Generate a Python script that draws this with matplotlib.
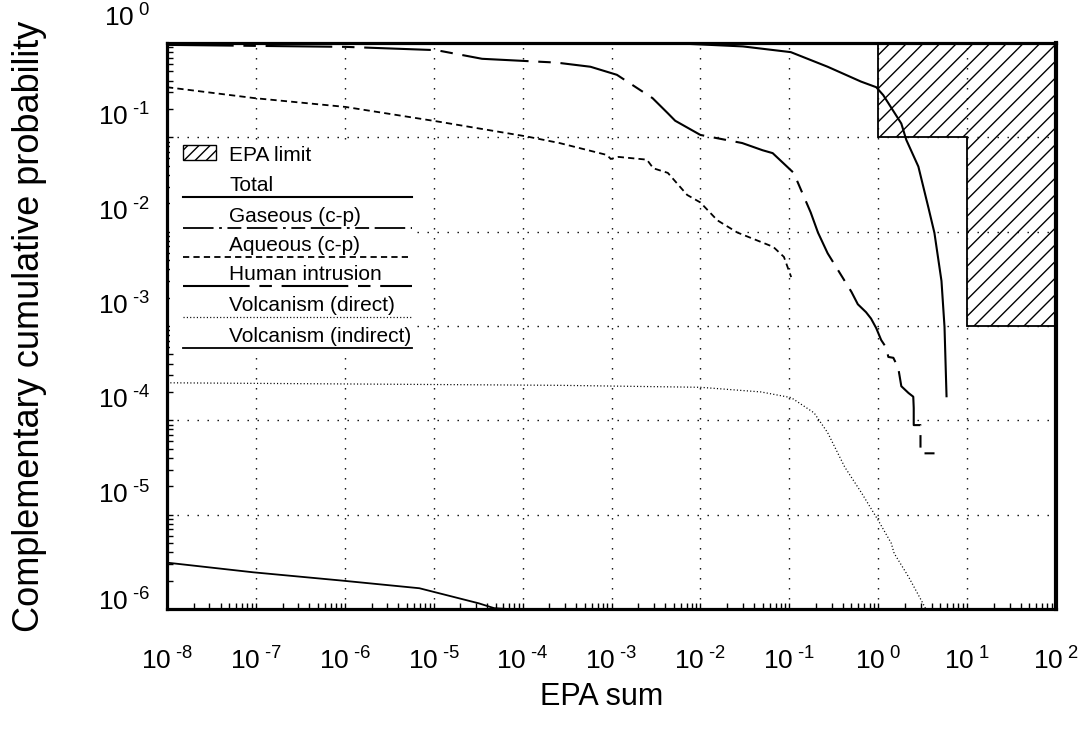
import matplotlib
matplotlib.use("Agg")
import matplotlib.pyplot as plt
import matplotlib.transforms as mtransforms
from matplotlib.patches import Polygon, Rectangle
from matplotlib.ticker import LogLocator, NullFormatter

plt.rcParams['font.family'] = ['Liberation Sans', 'DejaVu Sans']
plt.rcParams['mathtext.fontset'] = 'custom'
plt.rcParams['mathtext.rm'] = 'Liberation Sans'
plt.rcParams['lines.scale_dashes'] = False
plt.rcParams['hatch.linewidth'] = 1.0

# ---------------- data ----------------
x_total = [1e-8, 1e-4, 7.1e-3, 0.03, 0.104, 0.27, 0.64, 0.95, 1.14, 1.82, 2.07,
           2.83, 3.67, 4.29, 5.15, 5.57, 5.87]
y_total = [1.0, 0.995, 0.98, 0.92, 0.80, 0.56, 0.39, 0.34, 0.28, 0.14, 0.094,
           0.049, 0.018, 0.0097, 0.0030, 0.00098, 0.00018]

x_human = [1e-8, 1.02e-6, 1.07e-5, 3.5e-5, 2.4e-4, 5.8e-4, 1.15e-3, 2.9e-3, 4.3e-3,
           5.2e-3, 0.01, 0.0295, 0.05, 0.065, 0.112, 0.174, 0.21, 0.27, 0.50, 0.59,
           0.73, 0.83, 0.95, 1.08, 1.23, 1.30, 1.48, 1.68, 1.82, 2.19, 2.48, 2.51,
           2.51, 2.99, 2.99, 4.3]
y_human = [0.955, 0.91, 0.84, 0.68, 0.62, 0.56, 0.46, 0.26, 0.18,
           0.15, 0.106, 0.087, 0.073, 0.068, 0.042, 0.016, 0.0098, 0.0059, 0.0023, 0.0017,
           0.0014, 0.0012, 0.00095, 0.00071, 0.00059, 0.00047, 0.00046, 0.00036, 0.00023,
           0.000195, 0.000178, 0.000135, 0.000089, 0.000089, 0.0000447, 0.0000447]

x_aqueous = [1e-8, 9.8e-8, 1.02e-6, 1.07e-5, 1.12e-4, 2.6e-4, 8.9e-4, 9.8e-4, 1.2e-3,
             2.5e-3, 2.95e-3, 4.3e-3, 7.1e-3, 0.01, 0.0155, 0.026, 0.066, 0.087, 0.105]
y_aqueous = [0.34, 0.26, 0.21, 0.148, 0.102, 0.087, 0.065, 0.059, 0.062,
             0.058, 0.047, 0.042, 0.0245, 0.0204, 0.0132, 0.0098, 0.0069, 0.0054, 0.0033]

x_gaseous = []
y_gaseous = []

x_volc_direct = [1e-8, 2.6e-4, 0.01, 0.048, 0.105, 0.19, 0.27, 0.42, 0.65, 1.0,
                 1.40, 1.51, 2.19, 3.06, 3.47]
y_volc_direct = [2.5e-4, 2.35e-4, 2.24e-4, 2.0e-4, 1.74e-4, 1.2e-4, 7.4e-5, 3.2e-5,
                 1.7e-5, 8.7e-6, 5.0e-6, 3.9e-6, 2.2e-6, 1.23e-6, 0.98e-6]

x_volc_indirect = [1e-8, 9.3e-8, 9.3e-7, 6.9e-6, 3.2e-5, 4.8e-5, 9.8e-5]
y_volc_indirect = [3.1e-6, 2.45e-6, 2.0e-6, 1.66e-6, 1.15e-6, 1.02e-6, 0.98e-6]

epa_x = [1, 100, 100, 10, 10, 1]
epa_y = [1, 1, 1e-3, 1e-3, 0.1, 0.1]

x_tick_exps = [-8, -7, -6, -5, -4, -3, -2, -1, 0, 1, 2]
y_tick_exps = [0, -1, -2, -3, -4, -5, -6]
y_label_shift = [25, 20, 20, 20, 20, 20, 7]   # pixels upward

legend_labels = ["Total", "Gaseous (c-p)", "Aqueous (c-p)", "Human intrusion",
                 "Volcanism (direct)", "Volcanism (indirect)"]

# ---------------- styles ----------------
st_total = dict(color='black', lw=1.5, ls='-')
st_gas = dict(color='black', lw=1.3, ls=(0, (22, 4, 2, 4, 10, 4)))
st_aq = dict(color='black', lw=1.3, ls=(0, (4.5, 3)))
st_hum = dict(color='black', lw=1.5, ls=(0, (48, 7, 9, 7)))
st_vd = dict(color='black', lw=0.9, ls=(0, (0.8, 1.6)))
st_vi = dict(color='black', lw=1.3, ls='-')
legend_styles = [st_total, st_gas, st_aq, st_hum, st_vd, st_vi]


def pow_label(e):
    s = str(e).replace('-', '\u2010')
    return r'$\mathregular{10^{\;' + s + '}}$'


fig = plt.figure(figsize=(10.88, 7.34), dpi=100)
ax = fig.add_axes([167/1088, 1 - 609/734, 889/1088, 566/734])
ax.set_xscale('log')
ax.set_yscale('log')
ax.set_xlim(1e-8, 1e2)
ax.set_ylim(1e-6, 1)

# grid
ax.grid(True, which='major', color='black', lw=1.0, ls=(0, (1, 6.2)), zorder=0)
ax.set_axisbelow(True)

# EPA limit
ax.add_patch(Polygon(list(zip(epa_x, epa_y)), closed=True, facecolor='none',
                     edgecolor='black', hatch='//', lw=1.3, zorder=2))

# curves
ax.plot(x_total, y_total, zorder=3, **st_total)
ax.plot(x_human, y_human, zorder=3, **st_hum)
ax.plot(x_aqueous, y_aqueous, zorder=3, **st_aq)
ax.plot(x_gaseous, y_gaseous, zorder=3, **st_gas)
ax.plot(x_volc_direct, y_volc_direct, zorder=3, **st_vd)
ax.plot(x_volc_indirect, y_volc_indirect, zorder=3, **st_vi)

# custom legend
def ax_x(px):
    return (px - 167) / 889.0

def ax_y(py):
    return (609 - py) / 566.0

ax.add_patch(Rectangle((ax_x(170), ax_y(352)), ax_x(415) - ax_x(170), ax_y(140) - ax_y(352),
                       transform=ax.transAxes, facecolor='white', edgecolor='none', zorder=1))
ax.add_patch(Rectangle((ax_x(183), ax_y(160)), ax_x(216) - ax_x(183), ax_y(145) - ax_y(160),
                       transform=ax.transAxes, facecolor='none', edgecolor='black',
                       hatch='///', lw=1.0, zorder=4))
ax.text(ax_x(229), ax_y(161), "EPA limit", transform=ax.transAxes, fontsize=15,
        va='baseline', ha='left', zorder=5)
line_ys = [197, 228, 257, 286, 317, 348]
for lab, st, ly in zip(legend_labels, legend_styles, line_ys):
    ax.plot([ax_x(183), ax_x(412)], [ax_y(ly), ax_y(ly)], transform=ax.transAxes,
            zorder=4, **st)
    ax.text(ax_x(229), ax_y(ly - 6), lab, transform=ax.transAxes, fontsize=15,
            va='baseline', ha='left', zorder=5)

# ticks
ax.xaxis.set_minor_locator(LogLocator(base=10, subs=range(2, 10), numticks=20))
ax.yaxis.set_minor_locator(LogLocator(base=10, subs=range(2, 10), numticks=20))
ax.xaxis.set_minor_formatter(NullFormatter())
ax.yaxis.set_minor_formatter(NullFormatter())
ax.set_xticks([10.0 ** e for e in x_tick_exps])
ax.set_xticklabels([pow_label(e) for e in x_tick_exps], fontsize=19)
ax.set_yticks([10.0 ** e for e in y_tick_exps])
ax.set_yticklabels([])
ax.tick_params(axis='both', which='both', direction='in', top=False, right=False)
ax.tick_params(axis='both', which='major', length=4, width=1.0)
ax.tick_params(axis='both', which='minor', length=4, width=1.0)
ax.tick_params(axis='x', which='major', pad=28)

trans_y = mtransforms.blended_transform_factory(ax.transAxes, ax.transData)
for e, sh in zip(y_tick_exps, y_label_shift):
    off = mtransforms.ScaledTranslation(0, sh / 100.0, fig.dpi_scale_trans)
    ax.text(-17 / 889.0, 10.0 ** e, pow_label(e), transform=trans_y + off,
            fontsize=19, ha='right', va='center', clip_on=False)

for sp in ax.spines.values():
    sp.set_linewidth(2.3)
ax.spines['right'].set_linewidth(3.0)

fig.text(602 / 1088, 1 - 697 / 734, "EPA sum", fontsize=22, ha='center', va='center')
fig.text(30 / 1088, 1 - 326 / 734, "Complementary cumulative probability", fontsize=26,
         ha='center', va='center', rotation=90)

fig.savefig("out.png", dpi=100)
